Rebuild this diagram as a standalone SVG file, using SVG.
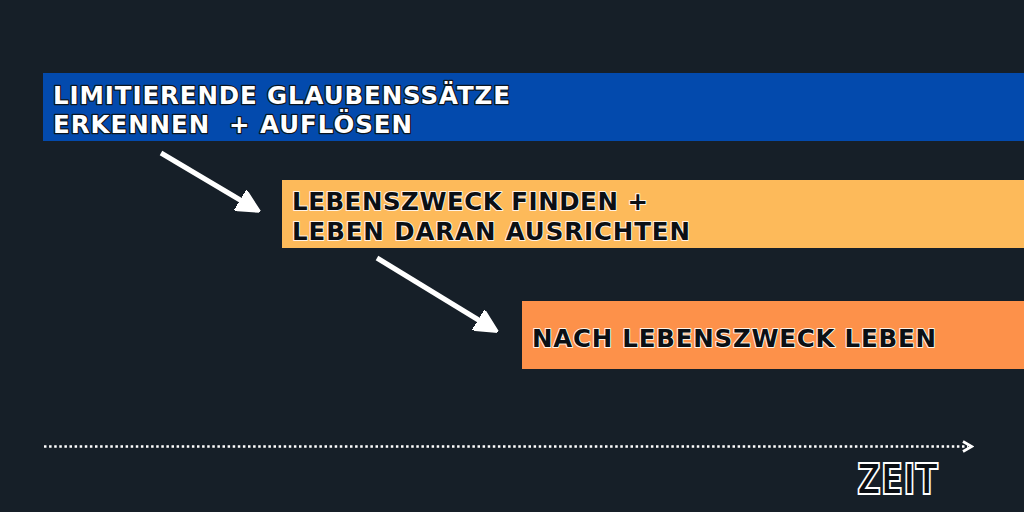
<svg xmlns="http://www.w3.org/2000/svg" width="1024" height="512" viewBox="0 0 1024 512">
<defs>
<style>
.t{font-family:"DejaVu Sans","Liberation Sans",sans-serif;font-weight:bold;font-size:24.5px;paint-order:stroke;stroke-linejoin:round}
.w{fill:#ffffff;stroke:#0d1620;stroke-width:2.5}
.k{fill:#0b0f14;stroke:#fff3e6;stroke-width:2}
.z{font-family:"DejaVu Sans",sans-serif;font-weight:bold;font-size:42px;fill:#0b0f14;stroke:#ffffff;stroke-width:2}
.arr{stroke:#ffffff;stroke-width:5;fill:none;marker-end:url(#ah)}
</style>
<marker id="ah" viewBox="0 0 10 10" refX="6" refY="5" markerWidth="4.6" markerHeight="4.6" orient="auto" markerUnits="strokeWidth">
<path d="M0,0 L10,5 L0,10 Z" fill="#ffffff" stroke="#ffffff" stroke-linejoin="round"/>
</marker>
<marker id="ch" viewBox="0 0 10 10" refX="5" refY="5" markerWidth="5" markerHeight="5" orient="auto" markerUnits="strokeWidth">
<path d="M1,1 L8,5 L1,9" fill="none" stroke="#ffffff" stroke-width="2.2"/>
</marker>
</defs>
<rect width="1024" height="512" fill="#161f28"/>
<g id="node-glaubenssaetze">
<rect x="43" y="73" width="981" height="68" fill="#034aad"/>
<text class="t w" x="53" y="104" textLength="457" lengthAdjust="spacing">LIMITIERENDE GLAUBENSSÄTZE</text>
<text class="t w" x="53" y="133" textLength="359" lengthAdjust="spacing" xml:space="preserve">ERKENNEN  + AUFLÖSEN</text>
</g>
<g id="node-lebenszweck-finden">
<rect x="282" y="180" width="742" height="68" fill="#fdba5a"/>
<text class="t k" x="292" y="210" textLength="356" lengthAdjust="spacing">LEBENSZWECK FINDEN +</text>
<text class="t k" x="292" y="239.5" textLength="398" lengthAdjust="spacing">LEBEN DARAN AUSRICHTEN</text>
</g>
<g id="node-lebenszweck-leben">
<rect x="522" y="301" width="502" height="68" fill="#fd914a"/>
<text class="t k" x="532" y="347" textLength="404" lengthAdjust="spacing">NACH LEBENSZWECK LEBEN</text>
</g>
<g id="connectors">
<line class="arr" x1="161" y1="153" x2="252" y2="207"/>
<line class="arr" x1="377" y1="258" x2="490" y2="327"/>
</g>
<g id="timeline">
<line x1="44" y1="446.5" x2="968" y2="446.5" stroke="#ffffff" stroke-width="2.5" stroke-dasharray="2.5 2.6" marker-end="url(#ch)"/>
<text class="z" x="857" y="494" textLength="81" lengthAdjust="spacingAndGlyphs">ZEIT</text>
</g>
</svg>
